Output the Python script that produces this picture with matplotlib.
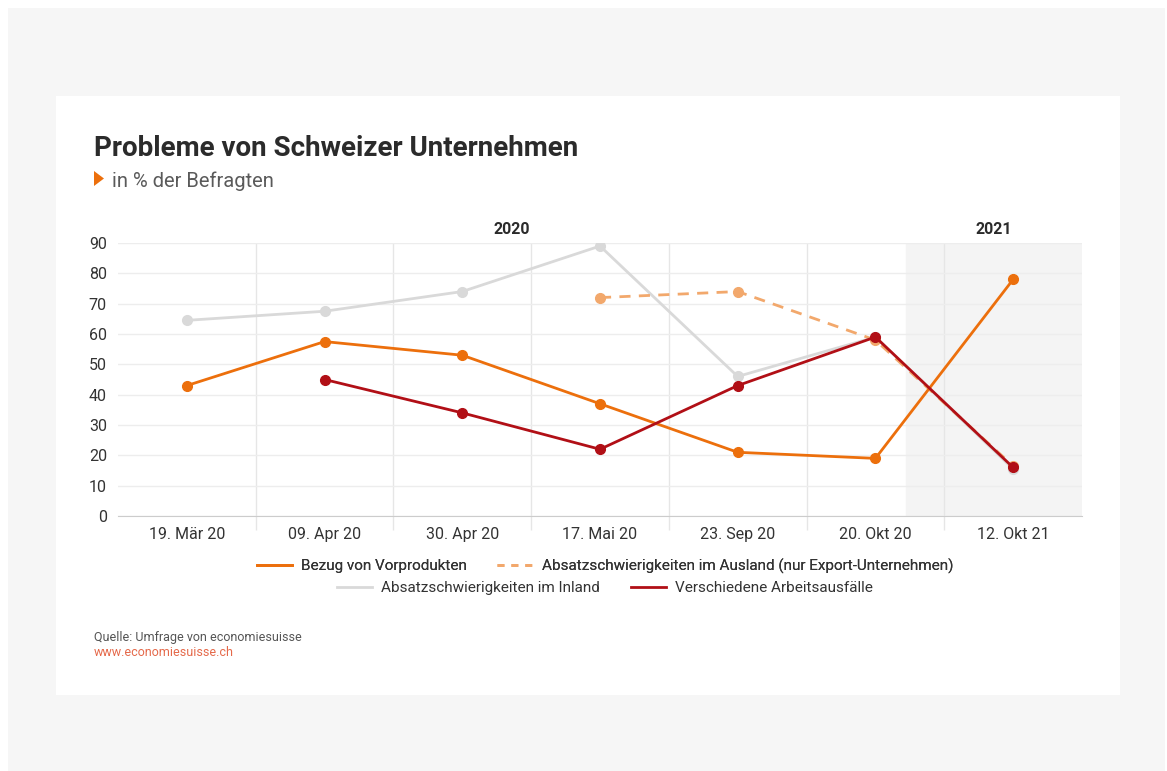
import numpy as np
import matplotlib
matplotlib.use("Agg")
import matplotlib.pyplot as plt
from matplotlib.patches import Rectangle, Polygon
from matplotlib.lines import Line2D
import matplotlib.transforms as mtransforms

plt.rcParams['font.family'] = ['Roboto', 'DejaVu Sans']

# data
dates = ["19. Mär 20", "09. Apr 20", "30. Apr 20", "17. Mai 20", "23. Sep 20", "20. Okt 20", "12. Okt 21"]
vorprodukte = [43, 57.5, 53, 37, 21, 19, 78]
inland = [64.5, 67.5, 74, 89, 46, 59, 15.5]
ausland = [np.nan, np.nan, np.nan, 72, 74, 58, 16.5]
arbeit = [np.nan, 45, 34, 22, 43, 59, 16]
yticks = [0, 10, 20, 30, 40, 50, 60, 70, 80, 90]

c_orange = "#ec6f0c"
c_light = "#f2a86c"
c_gray = "#d9d9d9"
c_red = "#b10f16"

W, H = 1167, 771
fig = plt.figure(figsize=(W / 100, H / 100), dpi=100)
fig.patch.set_facecolor("white")

def px(x, y):
    return x / W, 1 - y / H

# background panels
fig.patches.append(Rectangle((8 / W, 0), (1165 - 8) / W, (771 - 8) / H,
                             transform=fig.transFigure, facecolor="#f6f6f6", edgecolor="none", zorder=-2))
fig.patches.append(Rectangle((56 / W, 1 - 695 / H), (1120 - 56) / W, (695 - 96) / H,
                             transform=fig.transFigure, facecolor="white", edgecolor="none", zorder=-1))

# title block
fig.text(*px(94, 145), "Probleme von Schweizer Unternehmen", fontsize=20, fontweight="bold",
         color="#2b2b2b", va="center_baseline", ha="left")
fig.patches.append(Polygon([px(94, 171), px(94, 186), px(104, 178.5)], closed=True,
                           transform=fig.transFigure, facecolor=c_orange, edgecolor="none", zorder=3))
fig.text(*px(112, 179), "in % der Befragten", fontsize=14.5, color="#5a5a5a",
         va="center_baseline", ha="left")

# axes
l, r, t, b = 118, 1082, 243, 516
ax = fig.add_axes([l / W, 1 - b / H, (r - l) / W, (b - t) / H])
ax.set_facecolor("none")
x = np.arange(len(dates))
ax.set_xlim(-0.5, len(dates) - 0.5)
ax.set_ylim(0, 90)

ax.axvspan(5.22, 6.5, color="#f4f4f4", zorder=0)

ax.set_yticks(yticks)
ax.set_yticklabels([str(v) for v in yticks], fontsize=11.5, color="#333333")
ax.set_xticks(x)
ax.set_xticklabels(dates, fontsize=11.5, color="#333333")
ax.set_xticks(x[:-1] + 0.5, minor=True)
ax.tick_params(axis="x", which="major", length=0, pad=8)
ax.tick_params(axis="x", which="minor", length=10, color="#e6e6e6", width=1)
ax.tick_params(axis="y", length=0, pad=8)
ax.grid(axis="y", color="#ededed", linewidth=1, zorder=0)
ax.grid(axis="x", which="minor", color="#e6e6e6", linewidth=1, zorder=0)
for s in ["top", "right", "left"]:
    ax.spines[s].set_visible(False)
ax.spines["bottom"].set_color("#cccccc")

ax.plot(x, inland, color=c_gray, lw=2, marker="o", ms=7, zorder=3)
ax.plot(x, ausland, color=c_light, lw=2, ls=(0, (4, 3)), marker="o", ms=7, zorder=4)
ax.plot(x, vorprodukte, color=c_orange, lw=2, marker="o", ms=7, zorder=5)
ax.plot(x, arbeit, color=c_red, lw=2, marker="o", ms=7, zorder=6)

trans = mtransforms.blended_transform_factory(ax.transData, ax.transAxes)
ax.text((-0.5 + 5.22) / 2, 1.05, "2020", transform=trans, ha="center", va="center",
        fontsize=11.5, fontweight="bold", color="#2b2b2b")
ax.text((5.22 + 6.5) / 2, 1.05, "2021", transform=trans, ha="center", va="center",
        fontsize=11.5, fontweight="bold", color="#2b2b2b")

# legends
h1 = [Line2D([], [], color=c_orange, lw=2), Line2D([], [], color=c_light, lw=2, ls=(0, (2.5, 2.5)))]
h2 = [Line2D([], [], color=c_gray, lw=2), Line2D([], [], color=c_red, lw=2)]
leg1 = fig.legend(h1, ["Bezug von Vorprodukten", "Absatzschwierigkeiten im Ausland (nur Export-Unternehmen)"],
                  loc="center", bbox_to_anchor=px(605, 566), ncol=2, frameon=False, fontsize=11,
                  handlelength=2.3, columnspacing=2, handletextpad=0.6, labelcolor="#333333")
fig.add_artist(leg1)
fig.legend(h2, ["Absatzschwierigkeiten im Inland", "Verschiedene Arbeitsausfälle"],
           loc="center", bbox_to_anchor=px(605, 588), ncol=2, frameon=False, fontsize=11,
           handlelength=2.3, columnspacing=2, handletextpad=0.6, labelcolor="#333333")

# source
fig.text(*px(94, 638), "Quelle: Umfrage von economiesuisse", fontsize=9, color="#555555", va="center")
fig.text(*px(94, 653), "www.economiesuisse.ch", fontsize=9, color="#e5694a", va="center")

fig.savefig("out.png", dpi=100)
